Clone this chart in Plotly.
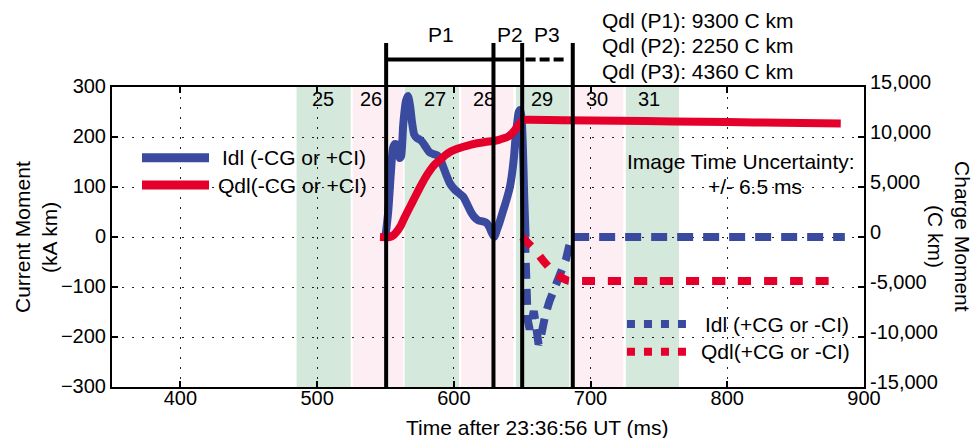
import plotly.graph_objects as go

# ---------------- data ----------------
# Idl (-CG or +CI), kA km
idl_neg_t = [550, 552, 554, 555.5, 557, 559, 560.5, 561.5, 563, 565, 566.5, 568, 569.5, 571, 573,
             575, 577, 579, 582, 585, 588, 590, 592, 594.5, 597, 599, 601, 604.5, 607, 610, 612.5,
             615, 618, 621.5, 624, 626, 627.5, 629.5, 631.5, 634, 636, 638.5, 641, 642.6, 644, 645,
             646.5, 647.5, 648.5, 649.5, 650.5, 651.5, 652.5]
idl_neg_v = [0, 50, 130, 178, 186, 184, 158, 162, 225, 272, 282, 262, 228, 205, 198,
             195, 190, 182, 170, 166, 163, 156, 142, 124, 108, 100, 94, 86, 80, 64, 50,
             40, 33, 31, 28, 20, 10, 0, 14, 34, 52, 74, 100, 127, 160, 194,
             232, 250, 254, 240, 180, 80, 0]

# Qdl (-CG or +CI), C km
qdl_neg_t = [546, 553, 556, 560.8, 564, 568, 572, 575.5, 579, 582.8, 586, 590, 593.5, 597.4, 602,
             607, 612, 617, 623, 629, 633, 636.5, 640, 642.6, 645, 647.4, 649.5, 651, 655, 680,
             720, 760, 800, 840, 883]
qdl_neg_v = [0, 0, 200, 1030, 1950, 3030, 4100, 5030, 5900, 6700, 7250, 7700, 8150, 8530, 8800,
             9030, 9220, 9370, 9500, 9600, 9720, 9870, 10070, 10370, 10750, 11200, 11550, 11700, 11720, 11680,
             11620, 11560, 11500, 11420, 11350]

# Idl (+CG or -CI), kA km
idl_pos_t = [652, 652.5, 653, 654, 655.5, 657, 658.5, 660, 661, 662, 663, 664, 665.5, 667, 670,
             673, 676, 679, 682, 684, 686, 700, 750, 800, 850, 886]
idl_pos_v = [0, -70, -130, -165, -185, -160, -148, -175, -200, -215, -208, -190, -172, -155, -128,
             -108, -88, -70, -45, -22, 0, 0, 0, 0, 0, 0]

# Qdl (+CG or -CI), C km
qdl_pos_t = [650, 655, 660, 665, 670, 675, 680, 684, 687, 700, 750, 800, 850, 881]
qdl_pos_v = [0, -700, -1400, -2300, -3100, -3700, -4150, -4380, -4400, -4400, -4400, -4400, -4400, -4400]

# image frames (ms)
frame_labels = ["25", "26", "27", "28", "29", "30", "31"]
frame_start = [485.0, 526.0, 564.0, 605.3, 645.5, 687.8, 725.8]
frame_end = [524.6, 563.0, 603.8, 643.5, 684.5, 724.0, 764.7]
frame_label_x = [504.3, 539.4, 586.1, 621.9, 664.4, 704.6, 742.6]
frame_colors = ["#d5e8dc", "#fdeef3", "#d5e8dc", "#fdeef3", "#d5e8dc", "#fdeef3", "#d5e8dc"]

# pulse boundaries (ms)
pulse_bounds = [550.5, 629, 650, 687]
pulse_labels = ["P1", "P2", "P3"]
pulse_label_x = [590.6, 641.1, 668.1]
qdl_texts = ["Qdl (P1): 9300 C km", "Qdl (P2): 2250 C km", "Qdl (P3): 4360 C km"]

x_ticks = [400, 500, 600, 700, 800, 900]
y_ticks = [-300, -200, -100, 0, 100, 200, 300]
y_ticktext = ["\u2212300", "\u2212200", "\u2212100", "0", "100", "200", "300"]
y2_ticks = [-15000, -10000, -5000, 0, 5000, 10000, 15000]
y2_ticktext = ["-15,000", "-10,000", "-5,000", "0", "5,000", "10,000", "15,000"]

BLUE = "#3a4b9f"
RED = "#e4002b"
FONT = "Liberation Sans"

fig = go.Figure()
fig.add_trace(go.Scatter(x=idl_neg_t, y=idl_neg_v, mode="lines", yaxis="y",
                         line=dict(color=BLUE, width=8, shape="spline", smoothing=0.6), showlegend=False))
fig.add_trace(go.Scatter(x=qdl_neg_t, y=qdl_neg_v, mode="lines", yaxis="y2",
                         line=dict(color=RED, width=8, shape="spline", smoothing=0.6), showlegend=False))
fig.add_trace(go.Scatter(x=idl_pos_t, y=idl_pos_v, mode="lines", yaxis="y",
                         line=dict(color=BLUE, width=8, dash="16px,10px"), showlegend=False))
fig.add_trace(go.Scatter(x=qdl_pos_t, y=qdl_pos_v, mode="lines", yaxis="y2",
                         line=dict(color=RED, width=8, dash="13px,13px", shape="spline", smoothing=0.5),
                         showlegend=False))

shapes = []
for s, e, c in zip(frame_start, frame_end, frame_colors):
    shapes.append(dict(type="rect", xref="x", yref="paper", x0=s, x1=e, y0=0, y1=1,
                       fillcolor=c, line=dict(width=0), layer="below"))
for b in pulse_bounds:
    shapes.append(dict(type="line", xref="x", yref="paper", x0=b, x1=b, y0=0, y1=1.147,
                       line=dict(color="black", width=4), layer="above"))
shapes.append(dict(type="line", xref="x", yref="paper", x0=pulse_bounds[0], x1=pulse_bounds[2],
                   y0=1.092, y1=1.092, line=dict(color="black", width=4)))
shapes.append(dict(type="line", xref="x", yref="paper", x0=652.5, x1=680.6,
                   y0=1.092, y1=1.092, line=dict(color="black", width=4, dash="10px,4px")))
# legend samples
shapes.append(dict(type="line", xref="paper", yref="paper", x0=0.0399, x1=0.129, y0=0.764, y1=0.764,
                   line=dict(color=BLUE, width=9)))
shapes.append(dict(type="line", xref="paper", yref="paper", x0=0.0399, x1=0.129, y0=0.673, y1=0.673,
                   line=dict(color=RED, width=9)))
shapes.append(dict(type="line", xref="paper", yref="paper", x0=0.6848, x1=0.7646, y0=0.21, y1=0.21,
                   line=dict(color=BLUE, width=8, dash="8px,9px")))
shapes.append(dict(type="line", xref="paper", yref="paper", x0=0.6848, x1=0.7646, y0=0.1177, y1=0.1177,
                   line=dict(color=RED, width=8, dash="8px,9px")))

ann = []
def txt(x, y, t, xref="paper", yref="paper", xa="center", size=21, angle=0):
    ann.append(dict(x=x, y=y, xref=xref, yref=yref, text=t, showarrow=False, xanchor=xa,
                    yanchor="middle", textangle=angle, font=dict(family=FONT, size=size, color="black")))

for lx, lt in zip(frame_label_x, frame_labels):
    txt(lx, 0.96, lt, xref="x", size=20)
for lx, lt in zip(pulse_label_x, pulse_labels):
    txt(lx, 1.175, lt, xref="x")
for yy, t in zip([1.223, 1.137, 1.05], qdl_texts):
    txt(0.649, yy, t, xa="left")
txt(0.8364, 0.753, "Image Time Uncertainty:")
txt(0.855, 0.667, "+/- 6.5 ms")
txt(0.1436, 0.764, "Idl (-CG or +CI)", xa="left")
txt(0.1383, 0.673, "Qdl(-CG or +CI)", xa="left")
txt(0.786, 0.21, "Idl (+CG or -CI)", xa="left")
txt(0.7806, 0.1177, "Qdl(+CG or -CI)", xa="left")
txt(0.566, -0.135, "Time after 23:36:56 UT (ms)")
txt(-0.1197, 0.5, "Current Moment", angle=-90)
txt(-0.0838, 0.5, "(kA km)", angle=-90)
txt(1.1316, 0.5, "Charge Moment", angle=90)
txt(1.0957, 0.5, "(C km)", angle=90)

GRID = dict(showgrid=True, gridcolor="#222222", gridwidth=1, griddash="2px,8px")

fig.update_layout(
    width=975, height=438, autosize=False,
    margin=dict(l=112, r=111, t=87, b=51),
    paper_bgcolor="white", plot_bgcolor="white",
    font=dict(family=FONT, size=20, color="black"),
    shapes=shapes, annotations=ann, showlegend=False,
    xaxis=dict(range=[350, 900], tickmode="array", tickvals=x_ticks,
               ticks="inside", ticklen=6, tickwidth=1.5, tickcolor="black",
               showline=True, linecolor="black", linewidth=2, mirror="ticks",
               zeroline=False, tickfont=dict(size=20), ticklabelstandoff=-8, **GRID),
    yaxis=dict(range=[-300, 300], tickmode="array", tickvals=y_ticks, ticktext=y_ticktext,
               ticks="inside", ticklen=6, tickwidth=1.5, tickcolor="black",
               showline=True, linecolor="black", linewidth=2, mirror=True,
               zeroline=False, tickfont=dict(size=20), ticklabelshift=-1, **GRID),
    yaxis2=dict(range=[-15000, 15000], tickmode="array", tickvals=y2_ticks, ticktext=y2_ticktext,
                overlaying="y", side="right",
                ticks="inside", ticklen=6, tickwidth=1.5, tickcolor="black",
                showline=True, linecolor="black", linewidth=2, ticklabelshift=-5,
                showgrid=False, zeroline=False, tickfont=dict(size=20)),
)

fig.write_html("out.html")
